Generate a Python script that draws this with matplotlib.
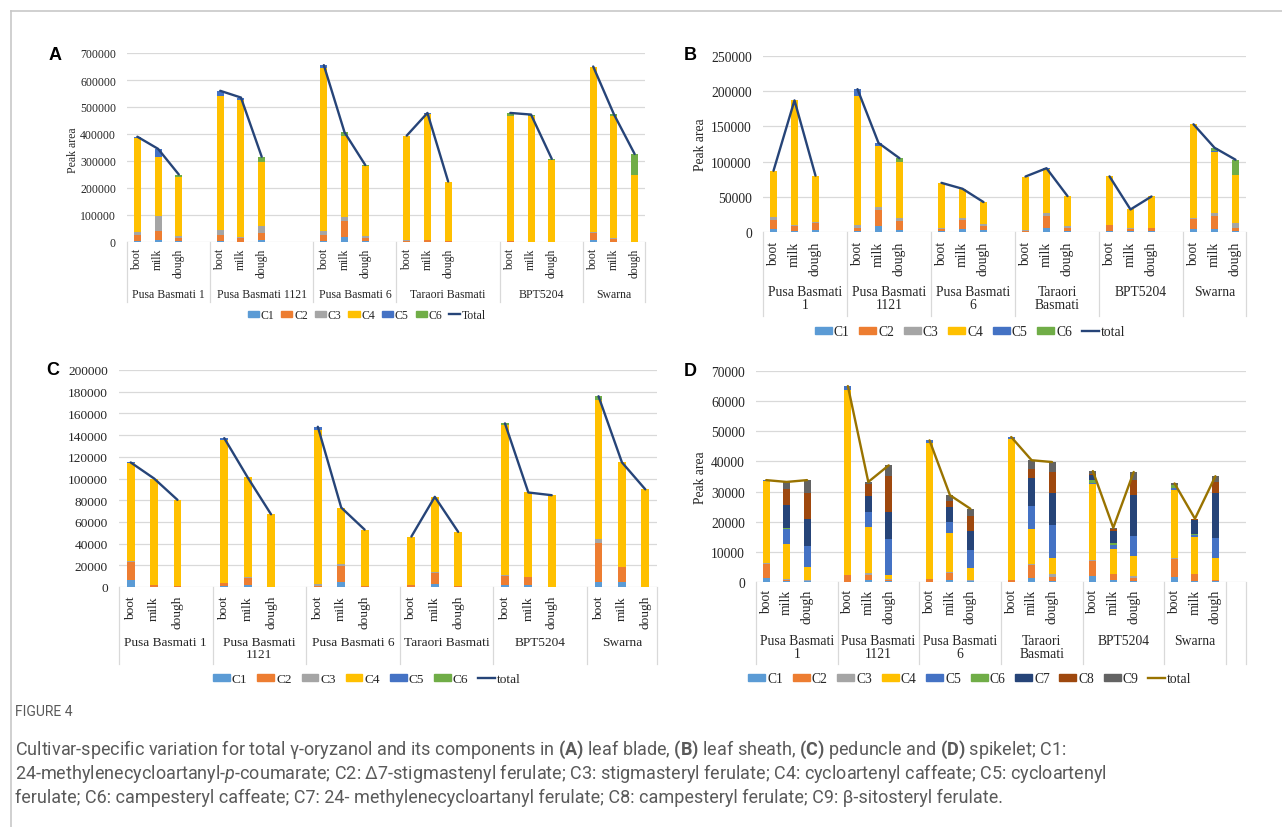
import numpy as np
import matplotlib.pyplot as plt
from matplotlib import font_manager
from matplotlib.patches import Patch
from matplotlib.lines import Line2D
from matplotlib.transforms import blended_transform_factory

# ---- data (peak areas) ----
cultivars = ["Pusa Basmati 1", "Pusa Basmati 1121", "Pusa Basmati 6",
             "Taraori Basmati", "BPT5204", "Swarna"]
stages = ["boot", "milk", "dough"]
components = ["C1", "C2", "C3", "C4", "C5", "C6", "C7", "C8", "C9"]

# (A) leaf blade, rows C1..C6, columns cultivar x stage
leaf_blade = [
    [5000, 6000, 3000, 2000, 1000, 8000, 3000, 17000, 2000, 0, 0, 0, 0, 0, 0, 8000, 1000, 0],
    [20000, 34000, 13000, 25000, 14000, 26000, 23000, 59000, 13000, 5000, 6000, 5000, 4000, 1000, 0, 26000, 10000, 0],
    [12000, 55000, 6000, 16000, 3000, 24000, 13000, 16000, 8000, 1000, 0, 0, 0, 0, 0, 2000, 3000, 0],
    [350000, 220000, 218000, 499000, 508000, 240000, 604000, 302000, 258000, 388000, 468000, 217000, 464000, 465000, 305000, 614000, 452000, 249000],
    [3000, 30000, 0, 18000, 9000, 0, 12000, 0, 0, 0, 4000, 0, 0, 0, 0, 0, 0, 0],
    [0, 0, 10000, 0, 0, 18000, 0, 12000, 4000, 0, 0, 2000, 10000, 6000, 3000, 0, 7000, 77000],
]

# (B) leaf sheath
leaf_sheath = [
    [4000, 2000, 3300, 1000, 8000, 3300, 1000, 3800, 2400, 0, 5200, 2000, 2000, 1000, 1000, 4700, 4700, 1500],
    [13500, 7000, 9700, 4700, 23600, 12300, 3700, 13700, 6100, 1500, 17500, 4100, 7900, 3700, 4200, 14200, 18000, 4200],
    [4000, 1000, 1000, 4700, 3800, 4700, 800, 2300, 2300, 1000, 4700, 1900, 600, 300, 300, 500, 3700, 7500],
    [65500, 177000, 66000, 183000, 86400, 79700, 64300, 41600, 31700, 76300, 61600, 43000, 68500, 27000, 45000, 133600, 86600, 67400],
    [0, 0, 0, 9500, 4700, 0, 0, 0, 0, 0, 1600, 0, 0, 0, 0, 0, 2400, 0],
    [0, 0, 0, 0, 0, 4800, 0, 0, 0, 0, 0, 0, 0, 0, 0, 0, 4300, 22100],
]

# (C) peduncle
peduncle = [
    [6500, 200, 0, 500, 1800, 0, 0, 4600, 0, 300, 2800, 0, 2200, 2200, 0, 4300, 4300, 0],
    [16900, 1600, 500, 2900, 6800, 200, 1000, 14800, 500, 1500, 10400, 500, 8000, 7000, 200, 36000, 13800, 0],
    [600, 200, 0, 300, 600, 0, 1500, 1800, 0, 0, 600, 0, 900, 300, 0, 3900, 0, 0],
    [90200, 98000, 79800, 131700, 91800, 66800, 142100, 52000, 52400, 44700, 68700, 50300, 138100, 77600, 84400, 128400, 96800, 90000],
    [600, 0, 0, 1800, 0, 0, 3100, 0, 0, 0, 0, 0, 0, 0, 0, 0, 0, 0],
    [0, 0, 0, 0, 0, 0, 0, 0, 0, 0, 600, 0, 1600, 0, 0, 3200, 0, 0],
]

# (D) spikelet, rows C1..C9
spikelet = [
    [1400, 200, 200, 0, 800, 300, 0, 700, 200, 0, 1200, 300, 2000, 800, 400, 1800, 400, 300],
    [4700, 600, 0, 2200, 1500, 200, 900, 2200, 0, 800, 4300, 1400, 5000, 1700, 900, 5700, 2100, 200],
    [200, 200, 300, 0, 700, 600, 0, 400, 500, 0, 600, 800, 200, 300, 700, 300, 200, 300],
    [27200, 11700, 4600, 61400, 15200, 1200, 45300, 13100, 4100, 46500, 11400, 5400, 25200, 8000, 6600, 22800, 12200, 7300],
    [300, 4900, 6700, 1400, 5100, 11900, 800, 3500, 5800, 800, 7700, 11000, 600, 1500, 6700, 700, 600, 6400],
    [0, 400, 0, 0, 0, 0, 0, 0, 0, 0, 0, 0, 800, 500, 0, 800, 500, 0],
    [0, 7400, 9000, 0, 5200, 9100, 0, 5100, 6300, 0, 9400, 10700, 1700, 4100, 13600, 200, 4600, 15100],
    [0, 5600, 8600, 0, 3900, 12000, 0, 1900, 5000, 0, 3000, 7000, 300, 600, 4900, 0, 200, 3600],
    [0, 2200, 4400, 0, 800, 3400, 0, 1900, 2400, 0, 2800, 3200, 1000, 500, 2700, 400, 200, 1900],
]

# group labels as wrapped on each category axis
labels_one_line = cultivars
labels_wrapped = ["Pusa Basmati\n1", "Pusa Basmati\n1121", "Pusa Basmati\n6",
                  "Taraori\nBasmati", "BPT5204", "Swarna"]
labels_C = ["Pusa Basmati 1", "Pusa Basmati\n1121", "Pusa Basmati 6",
            "Taraori Basmati", "BPT5204", "Swarna"]

# ---- style ----
PALETTE = ["#5B9BD5", "#ED7D31", "#A5A5A5", "#FFC000", "#4472C4",
           "#70AD47", "#264478", "#9E480E", "#636363"]
GRID = "#D9D9D9"
TXT = "#262626"
SERIF = "Liberation Serif"

installed = {f.name for f in font_manager.fontManager.ttflist}
CAPFONT = "Liberation Sans Narrow" if "Liberation Sans Narrow" in installed else "Roboto"
plt.rcParams["mathtext.fontset"] = "custom"
plt.rcParams["mathtext.rm"] = CAPFONT
plt.rcParams["mathtext.bf"] = CAPFONT + ":bold"
plt.rcParams["mathtext.it"] = CAPFONT + ":italic"

W, H = 1282, 828
fig = plt.figure(figsize=(W / 100, H / 100), dpi=100)


def panel(box, comps, line_color, total_name, ymax, ystep, slots, group_labels,
          fs, stage_top, group_top, sep_bottom, leg_center, leg_hl, leg_cs,
          letter, letter_xy, ylabel_xy=None):
    left, top, right, bot = box
    ax = fig.add_axes([left / W, 1 - bot / H, (right - left) / W, (bot - top) / H])
    ax.set_xlim(0, sum(slots))
    ax.set_ylim(0, ymax)
    ticks = np.arange(0, ymax + ystep / 2, ystep)
    ax.set_yticks(ticks)
    ax.set_yticklabels([f"{int(t)}" for t in ticks], fontsize=fs, color=TXT, family=SERIF)
    ax.tick_params(axis="y", length=0, pad=8)
    ax.set_xticks([])
    for s in ax.spines.values():
        s.set_visible(False)
    ax.grid(axis="y", color=GRID, lw=0.9)
    ax.set_axisbelow(True)

    data = np.array(comps, dtype=float)
    n_groups = data.shape[1] // 3
    starts = np.cumsum([0] + list(slots[:-1]))
    x = np.array([starts[g] + k + 0.5 for g in range(n_groups) for k in range(3)])

    acc = np.zeros(data.shape[1])
    handles = []
    for i, row in enumerate(data):
        ax.bar(x, row, width=0.34, bottom=acc, color=PALETTE[i], lw=0, zorder=2)
        acc += row
        handles.append(Patch(color=PALETTE[i], label=components[i]))
    total = data.sum(axis=0)
    for g in range(n_groups):
        ax.plot(x[3 * g:3 * g + 3], total[3 * g:3 * g + 3], color=line_color,
                lw=1.7, zorder=3, solid_capstyle="round")
    handles.append(Line2D([], [], color=line_color, lw=1.7, label=total_name))

    # multi-level category axis
    trans = blended_transform_factory(ax.transData, fig.transFigure)
    for xi, st in zip(x, stages * n_groups):
        ax.text(xi, 1 - stage_top / H, st, rotation=90, ha="center", va="top",
                transform=trans, fontsize=fs, color=TXT, family=SERIF)
    bounds = np.cumsum([0] + list(slots))
    for g, lab in enumerate(group_labels):
        ax.text((bounds[g] + bounds[g + 1]) / 2, 1 - group_top / H, lab,
                ha="center", va="top", linespacing=1.0, transform=trans,
                fontsize=fs, color=TXT, family=SERIF)
    for b in bounds:
        ax.plot([b, b], [1 - bot / H, 1 - sep_bottom / H], transform=trans,
                color=GRID, lw=0.9, clip_on=False)

    ax.legend(handles=handles, loc="center",
              bbox_to_anchor=(leg_center[0] / W, 1 - leg_center[1] / H),
              bbox_transform=fig.transFigure, ncol=len(handles), frameon=False,
              prop={"family": SERIF, "size": fs}, labelcolor=TXT,
              handlelength=leg_hl, handleheight=0.4, handletextpad=0.15,
              columnspacing=leg_cs, borderpad=0, borderaxespad=0)

    fig.text(letter_xy[0] / W, 1 - letter_xy[1] / H, letter, ha="center", va="center",
             fontsize=13, weight="bold", family="Liberation Sans", color="black")
    if ylabel_xy is not None:
        fig.text(ylabel_xy[0] / W, 1 - ylabel_xy[1] / H, "Peak area", rotation=90,
                 ha="center", va="center", fontsize=fs, color=TXT, family=SERIF)
    return ax


panel((127, 54, 645, 243), leaf_blade, "#264478", "Total", 700000, 100000,
      [4, 5, 4, 5, 4, 3], labels_one_line, 8.5, 249, 289, 303,
      (367, 316), 0.95, 0.58, "A", (55, 55), (73, 150))

panel((763, 57, 1246, 233), leaf_sheath, "#264478", "total", 250000, 50000,
      [4, 4, 4, 4, 4, 3], labels_wrapped, 9.8, 242, 286, 317,
      (970, 333), 1.25, 0.7, "B", (690, 55), (700, 145))

panel((119, 371, 657, 588), peduncle, "#264478", "total", 200000, 20000,
      [4, 4, 4, 4, 4, 3], labels_C, 9.6, 596, 637, 665,
      (367, 680), 1.25, 0.75, "C", (53, 371))

panel((756, 372, 1246, 583), spikelet, "#997300", "total", 70000, 10000,
      [4, 4, 4, 4, 4, 3, 1], labels_wrapped + [""], 9.8, 590, 635, 665,
      (970, 680), 1.25, 0.7, "D", (690, 372), (700, 478))

# frame lines
fig.add_artist(Line2D([11 / W, 1], [1 - 12 / H, 1 - 12 / H], color="#C8C8C8", lw=1.2))
fig.add_artist(Line2D([11 / W, 11 / W], [0, 1 - 12 / H], color="#C8C8C8", lw=1.2))

# caption
CAPCOL = "#5A5A5A"
fig.text(15 / W, 1 - 712 / H, "FIGURE 4", fontsize=10, color=CAPCOL, family=CAPFONT, va="center")
caption = [
    r"Cultivar-specific variation for total γ-oryzanol and its components in $\mathbf{(A)}$ leaf blade, "
    r"$\mathbf{(B)}$ leaf sheath, $\mathbf{(C)}$ peduncle and $\mathbf{(D)}$ spikelet; C1:",
    r"24-methylenecycloartanyl-$\mathit{p}$-coumarate; C2: Δ7-stigmastenyl ferulate; C3: stigmasteryl "
    r"ferulate; C4: cycloartenyl caffeate; C5: cycloartenyl",
    r"ferulate; C6: campesteryl caffeate; C7: 24- methylenecycloartanyl ferulate; C8: campesteryl "
    r"ferulate; C9: β-sitosteryl ferulate.",
]
for i, line in enumerate(caption):
    fig.text(15 / W, 1 - (750 + 24 * i) / H, line, fontsize=13, color=CAPCOL,
             family=CAPFONT, va="center")

fig.savefig("out.png", dpi=100)
